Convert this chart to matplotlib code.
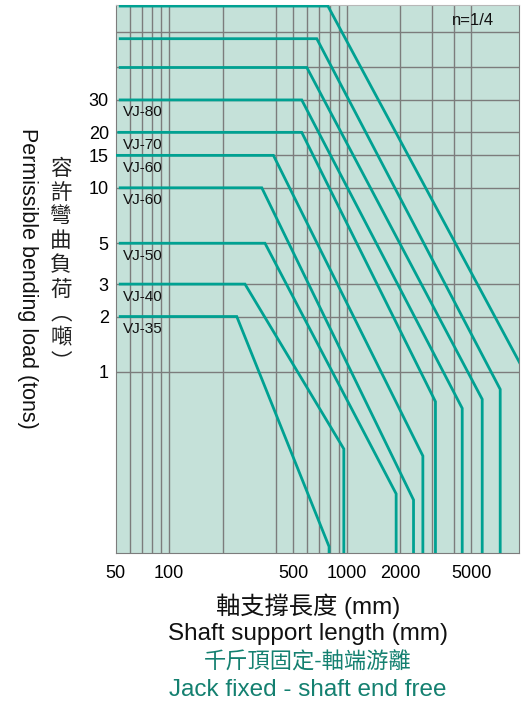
import matplotlib.pyplot as plt

plt.rcParams['font.family'] = ['Liberation Sans', 'Noto Sans CJK TC', 'DejaVu Sans']

# Permissible load curves (top to bottom); lengths in mm, loads in tons
models = ['', '', '', 'VJ-80', 'VJ-70', 'VJ-60', 'VJ-60', 'VJ-50', 'VJ-40', 'VJ-35']
max_load = [97, 64.5, 45, 30, 20, 15, 10, 5, 3, 2]
start_len = [53, 53, 53, 53, 52, 51, 53, 53, 53, 53]
knee_len = [782, 677, 595, 557, 557, 386, 332, 346, 267, 240]
limit_len = [9530, 7290, 5774, 4456, 3150, 2676, 2371, 1893, 961, 794]
limit_load = [1.09, 0.805, 0.711, 0.635, 0.690, 0.350, 0.202, 0.218, 0.382, 0.1126]

x_ticks = [50, 100, 500, 1000, 2000, 5000]
x_grid = [60, 70, 80, 90, 100, 200, 400, 500, 600, 700, 800, 900,
          1000, 2000, 3000, 4000, 5000]
y_ticks = [1, 2, 3, 5, 10, 15, 20, 30]
y_grid = [1, 2, 3, 5, 10, 15, 20, 30, 45, 70]

TEAL = '#00a192'
DARK_TEAL = '#148070'
GRID = '#7c7c7c'

W, H = 523, 705
fig = plt.figure(figsize=(W / 100, H / 100), dpi=100)
ax = fig.add_axes([115.7 / W, 1 - 553 / H, (519 - 115.7) / W, (553 - 5) / H])
ax.set_facecolor('#c5e1d9')
ax.set_xscale('log')
ax.set_yscale('log')
ax.set_xlim(50, 9300)
ax.set_ylim(0.104, 98.3)

for gx in x_grid:
    ax.axvline(gx, color=GRID, lw=1.0, zorder=1)
for gy in y_grid:
    ax.axhline(gy, color=GRID, lw=1.0, zorder=1)

for i in range(len(models)):
    xs = [start_len[i], knee_len[i], limit_len[i], limit_len[i]]
    ys = [max_load[i], max_load[i], limit_load[i], 0.09]
    ax.plot(xs, ys, color=TEAL, lw=2.0, solid_joinstyle='miter', zorder=3)
    if models[i]:
        ax.annotate(models[i], (55, max_load[i]), xytext=(0, -4),
                    textcoords='offset points', ha='left', va='top',
                    fontsize=11, color='#111111', zorder=4)

ax.text(0.885, 0.972, 'n=1/4', transform=ax.transAxes, ha='center',
        va='center', fontsize=12, color='#111111')

ax.set_xticks(x_ticks)
ax.set_xticklabels([str(v) for v in x_ticks])
ax.set_yticks(y_ticks)
ax.set_yticklabels([str(v) for v in y_ticks])
ax.minorticks_off()
ax.tick_params(axis='x', length=0, pad=9, labelsize=13)
ax.tick_params(axis='y', length=0, pad=5, labelsize=13)

for side in ['left', 'bottom', 'right']:
    ax.spines[side].set_color(GRID)
ax.spines['top'].set_color('#b8b8b8')

# axis titles
cx = 308 / W
fig.text(cx, 1 - 606 / H, '軸支撐長度 (mm)', ha='center', va='center',
         fontsize=17.5, color='#111111')
fig.text(cx, 1 - 634 / H, 'Shaft support length (mm)', ha='center',
         va='center', fontsize=17.5, color='#111111')
fig.text(cx, 1 - 663 / H, '千斤頂固定-軸端游離', ha='center', va='center',
         fontsize=16, color=DARK_TEAL)
fig.text(cx, 1 - 690 / H, 'Jack fixed - shaft end free', ha='center',
         va='center', fontsize=17.5, color=DARK_TEAL)

fig.text(27 / W, 1 - 278 / H, 'Permissible bending load (tons)', rotation=-90,
         ha='center', va='center', fontsize=15.5, color='#111111')
fig.text(61 / W, 1 - 266 / H, '\n'.join('容許彎曲負荷︵噸︶'), ha='center',
         va='center', fontsize=15.5, linespacing=1.2, color='#222222')

fig.savefig('out.png', dpi=100)
